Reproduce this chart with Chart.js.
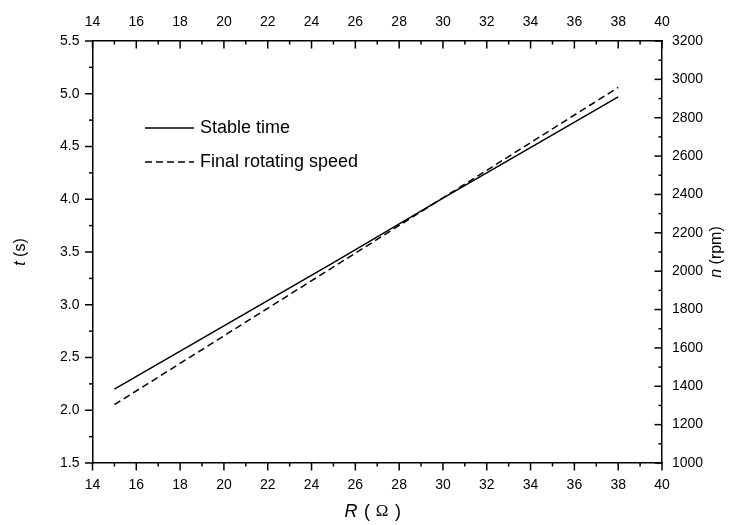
<!DOCTYPE html>
<html>
<head>
<meta charset="utf-8">
<script src="https://cdn.jsdelivr.net/npm/chart.js@4"></script>
<style>
  html, body { margin: 0; padding: 0; background: #fff; }
  #wrap { width: 735px; height: 525px; }
</style>
</head>
<body>
<div id="wrap"><canvas id="myChart" width="735" height="525"></canvas></div>
<script>
// values
const resistance = [15, 20, 25, 30, 35, 38];
const stableTime = [2.20, 2.80, 3.40, 4.01, 4.61, 4.97];
const finalSpeed = [1304, 1663, 2022, 2382, 2742, 2958];

const xTicks = [14, 16, 18, 20, 22, 24, 26, 28, 30, 32, 34, 36, 38, 40];
const tTicks = [1.5, 2.0, 2.5, 3.0, 3.5, 4.0, 4.5, 5.0, 5.5];
const nTicks = [1000, 1200, 1400, 1600, 1800, 2000, 2200, 2400, 2600, 2800, 3000, 3200];

const FONT = 'Liberation Sans, Arial, sans-serif';

function pts(xs, ys) {
  return xs.map((x, i) => ({ x: x, y: ys[i] }));
}

function fixSize(w, h) {
  return function (scale) {
    if (w !== null) scale.width = w;
    if (h !== null) scale.height = h;
  };
}

function axisOpts(pos, min, max, ticks, fmt, size, pad) {
  return {
    type: 'linear',
    position: pos,
    min: min,
    max: max,
    afterBuildTicks: s => { s.ticks = ticks.map(v => ({ value: v })); },
    afterFit: size,
    border: { display: true, color: '#000', width: 1.5 },
    grid: { display: true, drawOnChartArea: false, drawTicks: false },
    ticks: {
      color: '#000',
      padding: pad,
      font: { family: FONT, size: 14 },
      callback: fmt
    }
  };
}

// tick marks: bottom/left point out, top/right point into the plot
const tickMarks = {
  id: 'tickMarks',
  afterDraw(chart) {
    const ctx = chart.ctx;
    const a = chart.chartArea;
    ctx.save();
    ctx.strokeStyle = '#000';
    ctx.lineWidth = 1.5;
    function mark(scale, vals, len) {
      vals.forEach(v => {
        const p = scale.getPixelForValue(v);
        ctx.beginPath();
        if (scale.position === 'bottom') { ctx.moveTo(p, a.bottom); ctx.lineTo(p, a.bottom + len); }
        if (scale.position === 'top') { ctx.moveTo(p, a.top); ctx.lineTo(p, a.top + len); }
        if (scale.position === 'left') { ctx.moveTo(a.left, p); ctx.lineTo(a.left - len, p); }
        if (scale.position === 'right') { ctx.moveTo(a.right, p); ctx.lineTo(a.right - len, p); }
        ctx.stroke();
      });
    }
    const minor = (ticks) => ticks.slice(0, -1).map((v, i) => (v + ticks[i + 1]) / 2);
    const s = chart.scales;
    mark(s.x, xTicks, 7.5); mark(s.x, minor(xTicks), 3.5);
    mark(s.x2, xTicks, 7.5); mark(s.x2, minor(xTicks), 3.5);
    mark(s.y, tTicks, 7.5); mark(s.y, minor(tTicks), 3.5);
    mark(s.y2, nTicks, 7.5); mark(s.y2, minor(nTicks), 3.5);
    ctx.restore();
  }
};

// axis titles with italic variables
const axisTitles = {
  id: 'axisTitles',
  afterDraw(chart) {
    const ctx = chart.ctx;
    const a = chart.chartArea;
    const midY = (a.top + a.bottom) / 2;
    ctx.save();
    ctx.fillStyle = '#000';
    ctx.textBaseline = 'middle';

    function rich(parts, cx, cy, rot) {
      ctx.save();
      ctx.translate(cx, cy);
      ctx.rotate(rot);
      let w = 0;
      parts.forEach(p => { ctx.font = p.font; w += ctx.measureText(p.text).width; });
      let x = -w / 2;
      ctx.textAlign = 'left';
      parts.forEach(p => { ctx.font = p.font; ctx.fillText(p.text, x, 0); x += ctx.measureText(p.text).width; });
      ctx.restore();
    }
    rich([{ text: 't', font: 'italic 16px ' + FONT }, { text: ' (s)', font: '16px ' + FONT }], 21, midY, -Math.PI / 2);
    rich([{ text: 'n', font: 'italic 16px ' + FONT }, { text: ' (rpm)', font: '16px ' + FONT }], 717, midY, -Math.PI / 2);

    // R ( Ω ) with spaced brackets
    ctx.textAlign = 'center';
    ctx.font = 'italic 18px ' + FONT;
    ctx.fillText('R', 351, 512);
    ctx.font = '18px ' + FONT;
    ctx.fillText('(', 367, 512);
    ctx.fillText(')', 398, 512);
    ctx.font = '17px Liberation Serif';
    ctx.fillText('Ω', 382, 512);
    ctx.restore();
  }
};

// legend drawn inside the plot area
const innerLegend = {
  id: 'innerLegend',
  afterDraw(chart) {
    const ctx = chart.ctx;
    ctx.save();
    ctx.fillStyle = '#000';
    ctx.strokeStyle = '#000';
    ctx.lineWidth = 1.5;
    ctx.font = '18px ' + FONT;
    ctx.textBaseline = 'middle';
    chart.data.datasets.forEach((ds, i) => {
      const y = 128 + i * 34;
      ctx.setLineDash(ds.borderDash || []);
      ctx.beginPath();
      ctx.moveTo(145, y);
      ctx.lineTo(194, y);
      ctx.stroke();
      ctx.setLineDash([]);
      ctx.fillText(ds.label, 200, y);
    });
    ctx.restore();
  }
};

new Chart(document.getElementById('myChart').getContext('2d'), {
  type: 'line',
  data: {
    datasets: [{
      label: 'Stable time',
      data: pts(resistance, stableTime),
      borderColor: '#000',
      borderWidth: 1.5,
      pointRadius: 0,
      fill: false,
      xAxisID: 'x',
      yAxisID: 'y'
    }, {
      label: 'Final rotating speed',
      data: pts(resistance, finalSpeed),
      borderColor: '#000',
      borderWidth: 1.5,
      borderDash: [7, 4],
      pointRadius: 0,
      fill: false,
      xAxisID: 'x',
      yAxisID: 'y2'
    }]
  },
  options: {
    responsive: false,
    animation: false,
    layout: { padding: 0 },
    plugins: { legend: { display: false }, tooltip: { enabled: false } },
    scales: {
      x: axisOpts('bottom', 14, 40, xTicks, v => v, fixSize(null, 62), 14),
      x2: axisOpts('top', 14, 40, xTicks, v => v, fixSize(null, 41), 10),
      y: axisOpts('left', 1.5, 5.5, tTicks, v => v.toFixed(1), fixSize(92.5, null), 13),
      y2: axisOpts('right', 1000, 3200, nTicks, v => v, fixSize(73, null), 10)
    }
  },
  plugins: [tickMarks, axisTitles, innerLegend]
});
</script>
</body>
</html>
